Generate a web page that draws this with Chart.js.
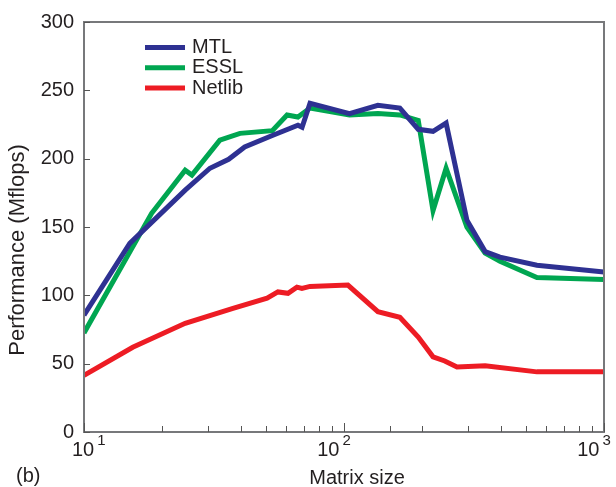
<!DOCTYPE html>
<html>
<head>
<meta charset="utf-8">
<script src="https://cdn.jsdelivr.net/npm/chart.js@4/dist/chart.umd.min.js"></script>
<style>
  html, body { margin: 0; padding: 0; background: #fff; }
  #wrap { width: 616px; height: 487px; position: relative; }
</style>
</head>
<body>
<div id="wrap"><canvas id="myChart"></canvas></div>
<script>
// data (matrix size vs Mflops)
var mtlSizes = [10, 15, 24.5, 30.5, 36, 41.5, 53, 66.5, 69, 74, 105, 135, 164, 193, 220, 247, 297, 349, 398, 552, 1000];
var mtlPerf = [85.5, 138, 177, 193, 199.5, 208.5, 217, 224.5, 223, 240.5, 233, 239, 237, 221.5, 220, 226, 155, 132, 128, 122, 117];

var esslSizes = [10, 18.2, 24.5, 26, 33.3, 39.8, 53, 60.4, 66.5, 74, 105, 135, 164, 193, 220, 247, 297, 349, 398, 552, 1000];
var esslPerf = [72.5, 160, 191.5, 188, 213.5, 218.5, 220.5, 232, 230.5, 237, 232, 233, 232, 228, 162, 193, 150, 131, 125, 113, 111.5];

var netlibSizes = [10, 15.4, 24.5, 37.4, 50.6, 55.7, 60.9, 65.9, 68.9, 74, 103.5, 135, 164, 193, 220, 244, 272, 349, 552, 1000];
var netlibPerf = [41.5, 62, 79.5, 90.5, 98, 102.5, 101.5, 106, 105, 106.5, 107.5, 88, 84, 69.5, 55, 52, 47.5, 48.5, 44, 44];

var seriesNames = ['MTL', 'ESSL', 'Netlib'];
var sizeRange = [10, 1000];
var perfRange = [0, 300];
var perfStep = 50;

var FONT = "'Liberation Sans', Arial, Helvetica, sans-serif";
var TEXT = '#231f20';
var GRAY = '#77787b';

function pts(xs, ys) {
    return xs.map(function (v, i) { return { x: v, y: ys[i] }; });
}

// box, inward ticks, x labels with exponents, titles, legend
var extras = {
    id: 'extras',
    afterDraw: function (chart) {
        var ctx = chart.ctx, a = chart.chartArea;
        var x = chart.scales.x, y = chart.scales.y;
        ctx.save();

        ctx.strokeStyle = GRAY;
        ctx.lineWidth = 2;
        ctx.strokeRect(a.left, a.top, a.right - a.left, a.bottom - a.top);

        ctx.strokeStyle = '#555';
        ctx.lineWidth = 1;
        ctx.beginPath();
        x.ticks.forEach(function (t) {
            var l = Math.log10(t.value);
            var major = Math.abs(l - Math.round(l)) < 1e-9;
            var px = Math.round(x.getPixelForValue(t.value)) + 0.5;
            ctx.moveTo(px, a.bottom);
            ctx.lineTo(px, a.bottom - (major ? 9 : 6));
        });
        y.ticks.forEach(function (t) {
            var py = Math.round(y.getPixelForValue(t.value)) + 0.5;
            ctx.moveTo(a.left, py);
            ctx.lineTo(a.left + 6, py);
        });
        ctx.stroke();

        // x tick labels: 10 with superscript exponent
        ctx.fillStyle = TEXT;
        ctx.textBaseline = 'alphabetic';
        ctx.textAlign = 'left';
        x.ticks.forEach(function (t) {
            var l = Math.log10(t.value);
            if (Math.abs(l - Math.round(l)) > 1e-9) return;
            var e = String(Math.round(l));
            ctx.font = '20px ' + FONT;
            var wb = ctx.measureText('10').width;
            ctx.font = '15px ' + FONT;
            var ws = ctx.measureText(e).width;
            var total = wb + 3 + ws;
            var left = x.getPixelForValue(t.value) - 10 - total / 2;
            left = Math.max(72, Math.min(left, 614 - total));
            ctx.font = '20px ' + FONT;
            ctx.fillText('10', left, 456);
            ctx.font = '15px ' + FONT;
            ctx.fillText(e, left + wb + 3, 445);
        });

        // axis titles and panel tag
        ctx.font = '20px ' + FONT;
        ctx.textAlign = 'center';
        ctx.fillText('Matrix size', 357, 484);
        ctx.textAlign = 'left';
        ctx.fillText('(b)', 16, 482);

        ctx.save();
        ctx.translate(18, 250);
        ctx.rotate(-Math.PI / 2);
        ctx.font = '22px ' + FONT;
        ctx.textAlign = 'center';
        ctx.textBaseline = 'middle';
        ctx.fillText('Performance (Mflops)', 0, 0);
        ctx.restore();

        // legend
        ctx.font = '20px ' + FONT;
        ctx.textBaseline = 'middle';
        ctx.lineWidth = 5;
        chart.data.datasets.forEach(function (ds, i) {
            var ly = 47.5 + i * 20.3;
            ctx.strokeStyle = ds.borderColor;
            ctx.beginPath();
            ctx.moveTo(145, ly);
            ctx.lineTo(185, ly);
            ctx.stroke();
            ctx.fillStyle = TEXT;
            ctx.fillText(ds.label, 192, ly);
        });

        ctx.restore();
    }
};

var ctx = document.getElementById('myChart').getContext('2d');

new Chart(ctx, {
    type: 'line',
    data: {
        datasets: [{
            label: seriesNames[0],
            data: pts(mtlSizes, mtlPerf),
            borderColor: '#2e3192'
        }, {
            label: seriesNames[1],
            data: pts(esslSizes, esslPerf),
            borderColor: '#00a651'
        }, {
            label: seriesNames[2],
            data: pts(netlibSizes, netlibPerf),
            borderColor: '#ed1c24'
        }]
    },
    options: {
        responsive: true,
        maintainAspectRatio: false,
        animation: false,
        layout: { padding: { top: 22, right: 12, left: 0, bottom: 0 } },
        elements: {
            line: { borderWidth: 5, tension: 0, fill: false },
            point: { radius: 0 }
        },
        plugins: {
            legend: { display: false },
            tooltip: { enabled: false }
        },
        scales: {
            x: {
                type: 'logarithmic',
                min: sizeRange[0],
                max: sizeRange[1],
                grid: { display: false, drawTicks: false },
                border: { display: false },
                ticks: { display: false },
                afterFit: function (scale) { scale.height = 55; }
            },
            y: {
                min: perfRange[0],
                max: perfRange[1],
                grid: { display: false, drawTicks: false },
                border: { display: false },
                ticks: {
                    stepSize: perfStep,
                    padding: 10,
                    color: TEXT,
                    font: { family: FONT, size: 20 }
                },
                afterFit: function (scale) { scale.width = 84; }
            }
        }
    },
    plugins: [extras]
});
</script>
</body>
</html>
